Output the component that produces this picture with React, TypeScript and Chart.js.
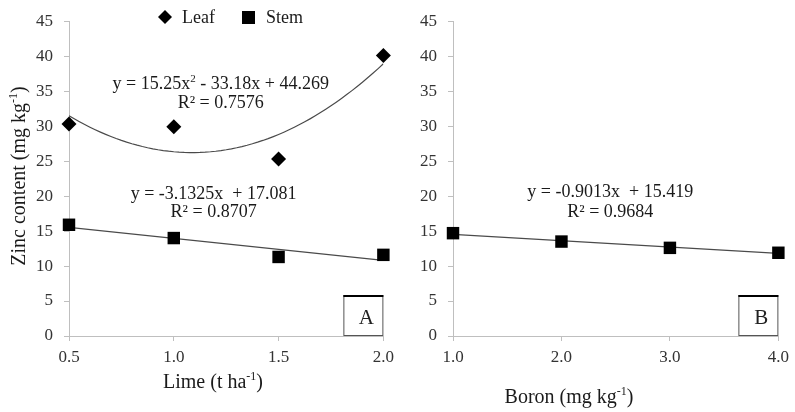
import React, { useEffect, useRef } from "react";
import { Chart, registerables } from "chart.js";

Chart.register(...registerables);

// ---- data ----
const limeLevels = [0.5, 1.0, 1.5, 2.0];
const limeLeaf = [30.3, 29.9, 25.3, 40.1];
const limeStem = [15.9, 14.0, 11.3, 11.6];
const boronLevels = [1.0, 2.0, 3.0, 4.0];
const boronStem = [14.7, 13.5, 12.6, 11.9];
// fitted trend coefficients (c0 + c1*x + c2*x^2) as shown on the chart
const leafLimeFit = [44.269, -33.18, 15.25];
const stemLimeFit = [17.081, -3.1325];
const stemBoronFit = [15.419, -0.9013];
const yTicks = [0, 5, 10, 15, 20, 25, 30, 35, 40, 45];

const SERIF = '"Liberation Serif", "Times New Roman", serif';

function evalPoly(c: number[], x: number) {
  return c.reduce((s, ci, i) => s + ci * Math.pow(x, i), 0);
}
function trend(c: number[], xs: number[], steps: number) {
  const a = xs[0];
  const b = xs[xs.length - 1];
  const out: { x: number; y: number }[] = [];
  for (let i = 0; i <= steps; i++) {
    const x = a + ((b - a) * i) / steps;
    out.push({ x, y: evalPoly(c, x) });
  }
  return out;
}
function pts(xs: number[], ys: number[]) {
  return xs.map((x, i) => ({ x, y: ys[i] }));
}

type Seg = { t: string; sup?: boolean };
function drawRich(ctx: CanvasRenderingContext2D, segs: Seg[], x: number, y: number, size: number, align: "center" | "left", color: string) {
  const base = `${size}px ${SERIF}`;
  const supF = `${Math.round(size * 0.62)}px ${SERIF}`;
  let w = 0;
  for (const s of segs) {
    ctx.font = s.sup ? supF : base;
    w += ctx.measureText(s.t).width;
  }
  let cx = align === "center" ? x - w / 2 : x;
  ctx.fillStyle = color;
  ctx.textAlign = "left";
  ctx.textBaseline = "alphabetic";
  for (const s of segs) {
    ctx.font = s.sup ? supF : base;
    ctx.fillText(s.t, cx, s.sup ? y - size * 0.4 : y);
    cx += ctx.measureText(s.t).width;
  }
}

type Eq = { lines: Seg[][]; x: number; y: number[] };
type Overlay = {
  eqs: Eq[];
  xTitle: { segs: Seg[]; x: number; y: number };
  yTitle?: { segs: Seg[]; x: number; y: number };
  legend?: boolean;
  boxLabel: string;
};

function makeOverlay(o: Overlay) {
  return {
    id: "overlay",
    afterDraw(chart: any) {
      const ctx: CanvasRenderingContext2D = chart.ctx;
      const xs = chart.scales.x;
      const ys = chart.scales.y;
      const area = chart.chartArea;
      ctx.save();
      // equations
      const eqSize = 18;
      for (const e of o.eqs) {
        const px = xs.getPixelForValue(e.x);
        e.lines.forEach((ln, i) => {
          const py = ys.getPixelForValue(e.y[i]) + eqSize * 0.33;
          drawRich(ctx, ln, px, py, eqSize, "center", "#1a1a1a");
        });
      }
      // axis titles
      drawRich(ctx, o.xTitle.segs, o.xTitle.x, o.xTitle.y, 20, "center", "#1a1a1a");
      if (o.yTitle) {
        ctx.save();
        ctx.translate(o.yTitle.x, o.yTitle.y);
        ctx.rotate(-Math.PI / 2);
        drawRich(ctx, o.yTitle.segs, 0, 0, 20, "center", "#1a1a1a");
        ctx.restore();
      }
      // legend
      if (o.legend) {
        ctx.fillStyle = "#000";
        const dx = 165, dy = 17, r = 7;
        ctx.beginPath();
        ctx.moveTo(dx - r, dy);
        ctx.lineTo(dx, dy - r);
        ctx.lineTo(dx + r, dy);
        ctx.lineTo(dx, dy + r);
        ctx.closePath();
        ctx.fill();
        ctx.fillRect(242, 11, 13, 13);
        drawRich(ctx, [{ t: "Leaf" }], 182, 23, 18, "left", "#1a1a1a");
        drawRich(ctx, [{ t: "Stem" }], 266, 23, 18, "left", "#1a1a1a");
      }
      // panel label box
      const bw = 40, bh = 41;
      const bx = area.right - bw;
      const by = area.bottom - bh;
      ctx.fillStyle = "#fff";
      ctx.fillRect(bx, by, bw, bh);
      ctx.strokeStyle = "#555";
      ctx.lineWidth = 1;
      ctx.strokeRect(bx + 0.5, by + 0.5, bw - 1, bh - 1);
      ctx.fillStyle = "#000";
      ctx.fillRect(bx, by, bw, 2);
      ctx.font = `21px ${SERIF}`;
      ctx.fillStyle = "#222";
      ctx.textAlign = "center";
      ctx.textBaseline = "alphabetic";
      ctx.fillText(o.boxLabel, bx + bw / 2 + 3, by + 29);
      ctx.restore();
    },
  };
}

function makeConfig(opts: {
  datasets: any[];
  xMin: number;
  xMax: number;
  xStep: number;
  yAxisWidth: number;
  padRight: number;
  overlay: Overlay;
}) {
  const tickFont = { family: SERIF, size: 17 };
  return {
    type: "scatter" as const,
    data: { datasets: opts.datasets },
    plugins: [makeOverlay(opts.overlay)],
    options: {
      responsive: false,
      animation: false as const,
      layout: { padding: { top: 18, right: opts.padRight, left: 0, bottom: 0 } },
      plugins: { legend: { display: false }, tooltip: { enabled: false } },
      scales: {
        x: {
          type: "linear" as const,
          min: opts.xMin,
          max: opts.xMax,
          afterFit: (s: any) => {
            s.height = 76;
          },
          ticks: {
            stepSize: opts.xStep,
            font: tickFont,
            color: "#333",
            padding: 6,
            maxRotation: 0,
            callback: (v: any) => Number(v).toFixed(1),
          },
          grid: { drawOnChartArea: false, drawTicks: true, tickLength: 5, color: "#bfbfbf" },
          border: { display: true, color: "#bfbfbf", width: 1 },
        },
        y: {
          type: "linear" as const,
          min: yTicks[0],
          max: yTicks[yTicks.length - 1],
          afterFit: (s: any) => {
            s.width = opts.yAxisWidth;
          },
          afterBuildTicks: (s: any) => {
            s.ticks = yTicks.map((v) => ({ value: v }));
          },
          ticks: { font: tickFont, color: "#333", padding: 11 },
          grid: { drawOnChartArea: false, drawTicks: true, tickLength: 5, color: "#bfbfbf" },
          border: { display: true, color: "#bfbfbf", width: 1 },
        },
      },
    },
  };
}

const pointLeaf = {
  showLine: false,
  clip: false,
  pointStyle: "rectRot",
  pointRadius: 7.5,
  backgroundColor: "#000",
  borderColor: "#000",
  borderWidth: 0,
};
const pointStem = {
  showLine: false,
  clip: false,
  pointStyle: "rect",
  pointRadius: 8.8,
  backgroundColor: "#000",
  borderColor: "#000",
  borderWidth: 0,
};
const trendStyle = {
  showLine: true,
  pointRadius: 0,
  borderColor: "#4a4a4a",
  borderWidth: 1.2,
  tension: 0,
  fill: false,
};

export default function App() {
  const refA = useRef<HTMLCanvasElement>(null);
  const refB = useRef<HTMLCanvasElement>(null);

  useEffect(() => {
    const chartA = new Chart(
      refA.current as HTMLCanvasElement,
      makeConfig({
        datasets: [
          { label: "Leaf", data: pts(limeLevels, limeLeaf), ...pointLeaf },
          { label: "Stem", data: pts(limeLevels, limeStem), ...pointStem },
          { label: "Leaf trend", data: trend(leafLimeFit, limeLevels, 60), ...trendStyle },
          { label: "Stem trend", data: trend(stemLimeFit, limeLevels, 1), ...trendStyle },
        ],
        xMin: limeLevels[0],
        xMax: limeLevels[limeLevels.length - 1],
        xStep: 0.5,
        yAxisWidth: 69,
        padRight: 13,
        overlay: {
          eqs: [
            {
              lines: [
                [{ t: "y = 15.25x" }, { t: "2", sup: true }, { t: " - 33.18x + 44.269" }],
                [{ t: "R² = 0.7576" }],
              ],
              x: 1.224,
              y: [36.2, 33.4],
            },
            {
              lines: [[{ t: "y = -3.1325x  + 17.081" }], [{ t: "R² = 0.8707" }]],
              x: 1.19,
              y: [20.5, 17.9],
            },
          ],
          xTitle: { segs: [{ t: "Lime (t ha" }, { t: "-1", sup: true }, { t: ")" }], x: 213, y: 388 },
          yTitle: { segs: [{ t: "Zinc content (mg kg" }, { t: "-1", sup: true }, { t: ")" }], x: 25, y: 176 },
          legend: true,
          boxLabel: "A",
        },
      }) as any
    );
    const chartB = new Chart(
      refB.current as HTMLCanvasElement,
      makeConfig({
        datasets: [
          { label: "Stem", data: pts(boronLevels, boronStem), ...pointStem },
          { label: "Stem trend", data: trend(stemBoronFit, boronLevels, 1), ...trendStyle },
        ],
        xMin: boronLevels[0],
        xMax: boronLevels[boronLevels.length - 1],
        xStep: 1,
        yAxisWidth: 58,
        padRight: 12,
        overlay: {
          eqs: [
            {
              lines: [[{ t: "y = -0.9013x  + 15.419" }], [{ t: "R² = 0.9684" }]],
              x: 2.45,
              y: [20.66, 17.83],
            },
          ],
          xTitle: { segs: [{ t: "Boron (mg kg" }, { t: "-1", sup: true }, { t: ")" }], x: 174, y: 403 },
          boxLabel: "B",
        },
      }) as any
    );
    return () => {
      chartA.destroy();
      chartB.destroy();
    };
  }, []);

  return (
    <div style={{ position: "absolute", left: 0, top: 0, width: 795, height: 412, background: "#fff", overflow: "hidden" }}>
      <canvas ref={refA} width={400} height={412} style={{ position: "absolute", left: 0, top: 0, width: 400, height: 412 }} />
      <canvas ref={refB} width={400} height={412} style={{ position: "absolute", left: 395, top: 0, width: 400, height: 412 }} />
    </div>
  );
}
